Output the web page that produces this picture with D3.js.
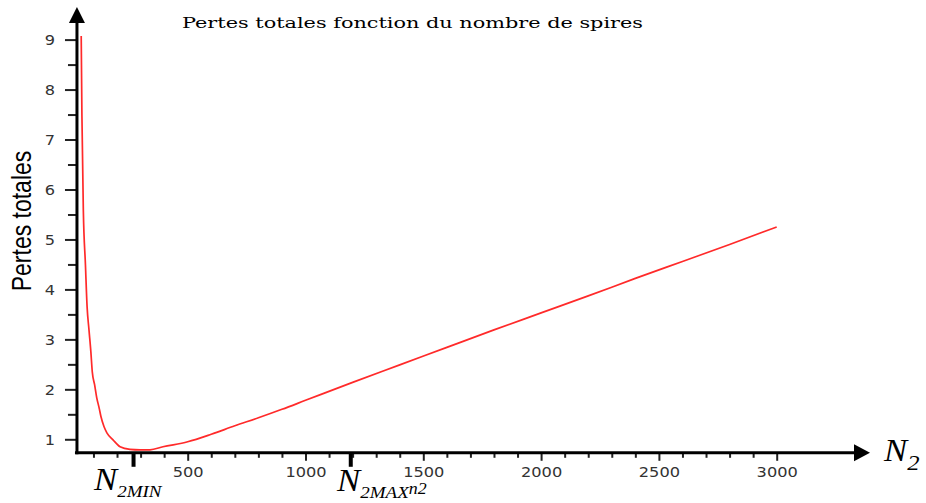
<!DOCTYPE html>
<html><head><meta charset="utf-8">
<script src="https://cdn.jsdelivr.net/npm/d3@7/dist/d3.min.js"></script>
<style>body{margin:0;background:#fff} svg{display:block}</style>
</head><body>
<svg id="c" width="926" height="503"></svg>
<script>
// ---- data ----
const turns  = [48, 51, 57, 66, 73, 81, 89, 95, 105, 114, 124, 132, 145, 157, 183, 213, 255, 298, 340, 395, 500, 600, 700, 800, 900, 1000, 1200, 1400, 1600, 1800, 2000, 2200, 2400, 2600, 2800, 3000];
const losses = [9.07, 7.49, 5.59, 4.49, 3.65, 3.19, 2.75, 2.35, 2.09, 1.83, 1.63, 1.45, 1.25, 1.13, 0.99, 0.85, 0.80, 0.79, 0.79, 0.85, 0.95, 1.10, 1.27, 1.43, 1.60, 1.78, 2.14, 2.49, 2.84, 3.19, 3.53, 3.87, 4.22, 4.56, 4.90, 5.25];
const yMajorTicks = [1, 2, 3, 4, 5, 6, 7, 8, 9];
const yMinorTicks = [1.5, 2.5, 3.5, 4.5, 5.5, 6.5, 7.5, 8.5];
const xMajorTicks = [500, 1000, 1500, 2000, 2500, 3000];
const xMinorTicks = d3.range(100, 3001, 100).filter(v => v % 500 !== 0);
const markerTicks = [268, 1190];
const titleText = "Pertes totales fonction du nombre de spires";
const yTitle = "Pertes totales";

// ---- scales ----
const svg = d3.select("#c");
const x = d3.scaleLinear().domain([500, 3000]).range([187.7, 776.7]);
const y = d3.scaleLinear().domain([1, 9]).range([439.3, 39.6]);
const xMinV = 30, xMaxV = 3396, yMinV = 0.73, yMaxV = 9.63;
const X0 = x(xMinV), Y0 = y(yMinV);
const STRETCH = 1.2;

// ---- y axis ticks ----
const gy = svg.append("g").attr("transform", `translate(${X0},0)`);
gy.append("g").call(d3.axisLeft(y).tickValues(yMinorTicks).tickSize(9).tickFormat(""))
  .call(g => g.select(".domain").remove());
gy.append("g").call(d3.axisLeft(y).tickValues(yMajorTicks).tickSize(12).tickFormat(d3.format("d")).tickPadding(10))
  .call(g => g.select(".domain").remove())
  .call(g => g.selectAll("text")
     .attr("font-family", "DejaVu Sans").attr("font-size", 13.5).attr("fill", "#333")
     .attr("x", -22 / STRETCH).attr("dy", "0.35em")
     .attr("transform", `scale(${STRETCH},1)`));
gy.selectAll(".tick line").attr("stroke", "#222").attr("stroke-width", 2);

// ---- x axis ticks ----
const gx = svg.append("g").attr("transform", `translate(0,${Y0})`);
gx.append("g").call(d3.axisBottom(x).tickValues(xMinorTicks).tickSize(5).tickFormat(""))
  .call(g => g.select(".domain").remove());
gx.append("g").call(d3.axisBottom(x).tickValues(xMajorTicks).tickSize(8).tickFormat(d3.format("d")))
  .call(g => g.select(".domain").remove())
  .call(g => g.selectAll("text")
     .attr("font-family", "DejaVu Sans").attr("font-size", 13.5).attr("fill", "#333")
     .attr("y", 24).attr("dy", 0)
     .attr("transform", `scale(${STRETCH},1)`));
gx.selectAll(".tick line").attr("stroke", "#222").attr("stroke-width", 2);
gx.append("g").call(d3.axisBottom(x).tickValues(markerTicks).tickSize(14).tickFormat(""))
  .call(g => g.select(".domain").remove())
  .call(g => g.selectAll(".tick line").attr("stroke", "#000").attr("stroke-width", 4));

// ---- axis lines with arrows ----
svg.append("line").attr("x1", X0).attr("x2", X0).attr("y1", Y0 + 1.5).attr("y2", 16)
  .attr("stroke", "#000").attr("stroke-width", 3);
svg.append("path").attr("d", `M${X0},7 L${X0 - 8},23 L${X0 + 8},23 Z`).attr("fill", "#000");
const xEnd = x(xMaxV);
svg.append("line").attr("x1", X0 - 2).attr("x2", xEnd - 10).attr("y1", Y0).attr("y2", Y0)
  .attr("stroke", "#000").attr("stroke-width", 3);
svg.append("path").attr("d", `M${xEnd},${Y0} L${xEnd - 16},${Y0 - 8.5} L${xEnd - 16},${Y0 + 8.5} Z`).attr("fill", "#000");

// ---- curve ----
const line = d3.line().x(d => x(d[0])).y(d => y(d[1])).curve(d3.curveMonotoneX);
svg.append("path").datum(d3.zip(turns, losses))
  .attr("d", line).attr("fill", "none").attr("stroke", "#ff2a2a").attr("stroke-width", 1.7);

// ---- title ----
svg.append("text").attr("x", 182).attr("y", 28)
  .attr("font-family", "DejaVu Serif").attr("font-size", 14).attr("fill", "#000")
  .attr("textLength", 461).attr("lengthAdjust", "spacingAndGlyphs")
  .text(titleText);

// ---- y axis title ----
svg.append("text").attr("transform", `translate(31,221) scale(${STRETCH},1) rotate(-90)`)
  .attr("text-anchor", "middle")
  .attr("font-family", "Liberation Sans, Arial, sans-serif").attr("font-size", 23).attr("fill", "#000")
  .text(yTitle);

// ---- N labels ----
function nLabel(px, py, sub, extra) {
  const t = svg.append("text").attr("transform", `translate(${px},${py}) scale(1.12,1)`)
    .attr("font-family", "Liberation Serif, Times New Roman, serif").attr("font-style", "italic").attr("fill", "#000");
  t.append("tspan").attr("font-size", 31).text("N");
  t.append("tspan").attr("font-size", sub.length > 1 ? 17 : 22).attr("dy", sub.length > 1 ? 7 : 9).text(sub);
  if (extra) t.append("tspan").attr("font-size", 16).attr("dy", -4).text(extra);
}
nLabel(94, 490, "2MIN");
nLabel(337, 491, "2MAX", "n2");
nLabel(884, 461, "2");
</script>
</body></html>
